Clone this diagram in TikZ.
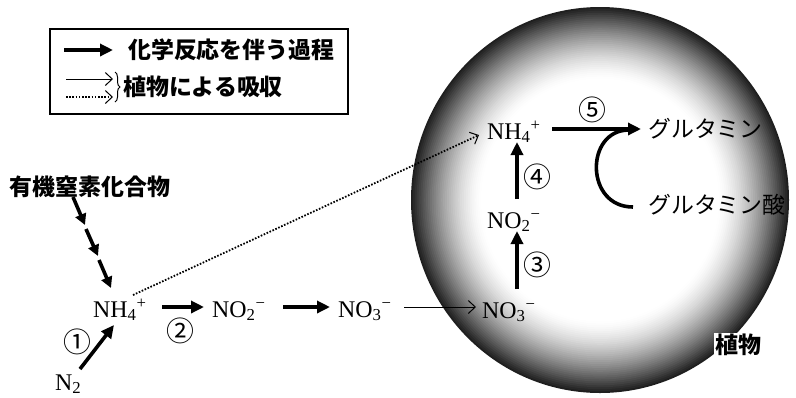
\documentclass[tikz,border=0pt]{standalone}
\usepackage{fontspec}
\setmainfont{Liberation Serif}
\newfontfamily\jpfont{Noto Sans CJK JP}
\usetikzlibrary{arrows.meta,decorations.pathreplacing}
\begin{document}
\begin{tikzpicture}[x=1bp,y=-1bp,
  chem/.style={font=\fontsize{24}{24}\selectfont, inner sep=0pt, anchor=base west},
  jp/.style={font=\jpfont\fontsize{23}{23}\selectfont, inner sep=0pt},
  jpb/.style={font=\jpfont\bfseries\fontsize{23}{23}\selectfont, inner sep=0pt},
  num/.style={font=\jpfont\fontsize{28}{28}\selectfont, inner sep=0pt},
  rxn/.style={line width=3.6bp, -{Triangle[length=13bp,width=12bp]}},
  rxnsmall/.style={line width=3.6bp, -{Triangle[length=11bp,width=11bp]}},
  uptake/.style={line width=1bp, -{Straight Barb[length=7bp,width=13bp,line width=1bp]}},
  dots/.style={line width=1.8bp, dash pattern=on 1.6bp off 1.6bp,
    -{Straight Barb[length=7bp,width=13bp,line width=1bp]}}]
\useasboundingbox (0,0) rectangle (796,397);
% plant body: radial darkening towards the rim
\foreach \i in {0,...,37}{
  \pgfmathsetmacro\t{(37-\i)/37}
  \pgfmathsetmacro\k{88*\t^1.5}
  \pgfmathsetmacro\f{1-\i*0.01}
  \fill[black!\k] (600,200) ellipse [x radius=189*\f, y radius=193*\f];
}
% legend
\draw[line width=1.3bp] (50,29) rectangle (348,114);
\coordinate (l1s) at (64,50); \coordinate (l1e) at (113,50);
\draw[rxn] (l1s) -- (l1e);
\node[jpb, anchor=west] (l1t) at (128,50) {化学反応を伴う過程};
\coordinate (l2s) at (66,79); \coordinate (l2e) at (113,79);
\draw[uptake] (l2s) -- (l2e);
\coordinate (l3s) at (66,97); \coordinate (l3e) at (113,97);
\draw[dots] (l3s) -- (l3e);
\coordinate (bra) at (115,72); \coordinate (brb) at (115,102);
\draw[decorate, decoration={brace, amplitude=5bp}, line width=1bp] (bra) -- (brb);
\node[jpb, anchor=west] (l2t) at (123,87) {植物による吸収};
% organic N
\node[jpb] (org) at (90,187) {有機窒素化合物};
\coordinate (o1) at (73,197); \coordinate (o2) at (85,225);
\coordinate (o3) at (86,229); \coordinate (o4) at (98,256);
\coordinate (o5) at (99,260); \coordinate (o6) at (111,288);
\draw[rxnsmall] (o1) -- (o2);
\draw[rxnsmall] (o3) -- (o4);
\draw[rxnsmall] (o5) -- (o6);
% soil chemistry
\node[chem] (nh4l) at (93,317) {NH\textsubscript{4}\textsuperscript{+}};
\node[chem] (n2) at (55,390) {N\textsubscript{2}};
\coordinate (c1s) at (80,369); \coordinate (c1e) at (114,325);
\draw[rxn] (c1s) -- (c1e);
\node[num] (k1) at (77,342) {①};
\coordinate (c2s) at (162,307); \coordinate (c2e) at (204,307);
\draw[rxn] (c2s) -- (c2e);
\node[num] (k2) at (180,331) {②};
\node[chem] (no2a) at (212,317) {NO\textsubscript{2}\textsuperscript{−}};
\coordinate (c6s) at (283,307); \coordinate (c6e) at (330,307);
\draw[rxn] (c6s) -- (c6e);
\node[chem] (no3a) at (338,317) {NO\textsubscript{3}\textsuperscript{−}};
\coordinate (u1s) at (404,307); \coordinate (u1e) at (476,307);
\draw[uptake] (u1s) -- (u1e);
% inside plant
\node[chem] (no3b) at (482,318) {NO\textsubscript{3}\textsuperscript{−}};
\node[chem] (no2b) at (487,228) {NO\textsubscript{2}\textsuperscript{−}};
\node[chem] (nh4r) at (487,139) {NH\textsubscript{4}\textsuperscript{+}};
\coordinate (c3s) at (517,289); \coordinate (c3e) at (517,231);
\draw[rxn] (c3s) -- (c3e);
\node[num] (k3) at (537,265) {③};
\coordinate (c4s) at (517,199); \coordinate (c4e) at (517,142);
\draw[rxn] (c4s) -- (c4e);
\node[num] (k4) at (537,177) {④};
\coordinate (u2s) at (133,295); \coordinate (u2e) at (479,135);
\draw[dots] (u2s) -- (u2e);
\coordinate (c5s) at (552,129); \coordinate (c5e) at (641,129);
\draw[rxn] (c5s) -- (c5e);
\node[num] (k5) at (592,110) {⑤};
\node[jp, anchor=west] (gln) at (648,129) {グルタミン};
\node[jp, anchor=west] (glu) at (648,205) {グルタミン酸};
\coordinate (ga) at (633,207); \coordinate (gb) at (628,130);
\draw[line width=3.6bp] (ga) .. controls (585,207) and (585,131) .. (gb);
\node[jpb, fill=white, inner sep=1.5bp] (plant) at (738,345) {植物};
\end{tikzpicture}
\end{document}
